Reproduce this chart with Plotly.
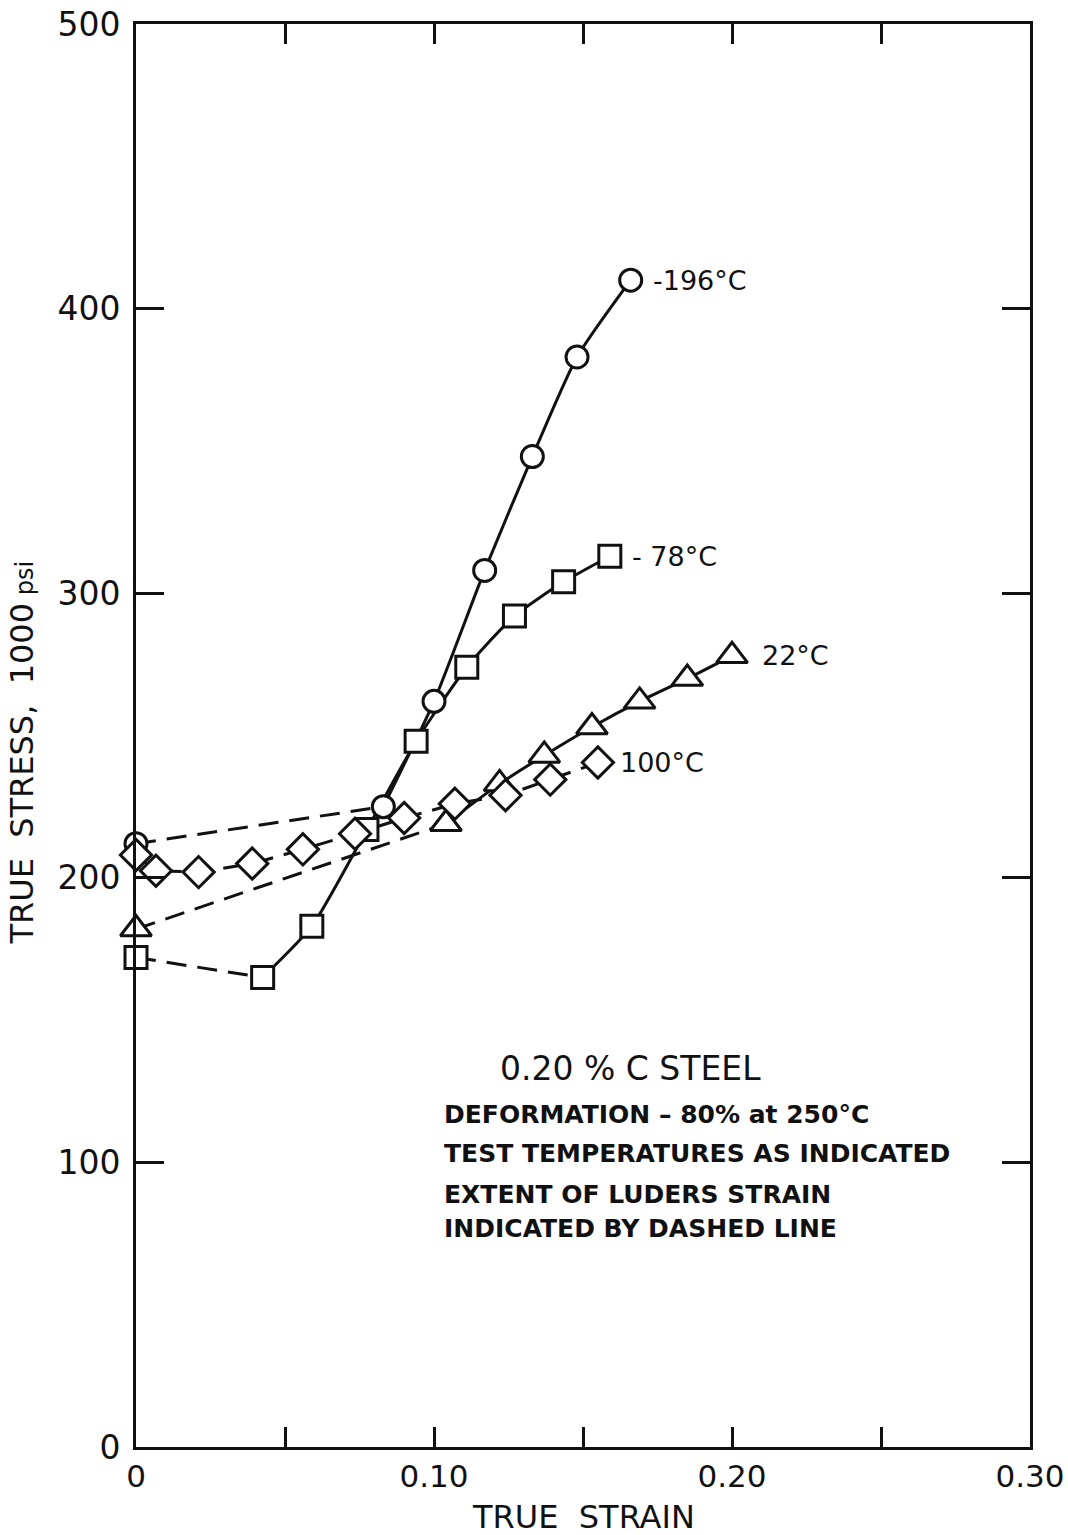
import plotly.graph_objects as go

# True strain / true stress (1000 psi) readings for each test temperature
strain_m196 = [0.0, 0.083, 0.100, 0.117, 0.133, 0.148, 0.166]
stress_m196 = [212, 225, 262, 308, 348, 383, 410]

strain_m78 = [0.0, 0.0425, 0.059, 0.0775, 0.094, 0.111, 0.127, 0.1435, 0.159]
stress_m78 = [172, 165, 183, 217, 248, 274, 292, 304, 313]

strain_22 = [0.0, 0.104, 0.122, 0.137, 0.153, 0.169, 0.185, 0.200]
stress_22 = [182, 219, 233, 243, 253, 262, 270, 278]

strain_100 = [0.0, 0.0067, 0.021, 0.039, 0.056, 0.0735, 0.090, 0.107, 0.124, 0.139, 0.155]
stress_100 = [208, 202.5, 202, 205, 210, 215.5, 221, 226, 229, 234.5, 240.5]

# index of the last point of the Luders (dashed) portion of each curve
luders_end_m196 = 1
luders_end_m78 = 1
luders_end_22 = 1
luders_end_100 = len(strain_100) - 1

temp_labels = ["-196°C", "- 78°C", "22°C", "100°C"]
x_ticks = [0, 0.05, 0.10, 0.15, 0.20, 0.25, 0.30]
x_tick_text = ["0", "", "0.10", "", "0.20", "", "0.30"]
y_ticks = [0, 100, 200, 300, 400, 500]

INK = "#111111"
FONT = "DejaVu Sans"

series = [
    (strain_m196, stress_m196, luders_end_m196, "circle", 22, temp_labels[0], 20),
    (strain_m78, stress_m78, luders_end_m78, "square", 22, temp_labels[1], 20),
    (strain_22, stress_22, luders_end_22, "triangle-up", 27, temp_labels[2], 28),
    (strain_100, stress_100, luders_end_100, "diamond", 24, temp_labels[3], 20),
]

fig = go.Figure()

# curve segments: dashed over the Luders strain, solid afterwards
for xs, ys, k, sym, size, label, shift in series:
    fig.add_trace(go.Scatter(
        x=xs[:k + 1], y=ys[:k + 1], mode="lines",
        line=dict(color=INK, width=3, dash="20px,11px"),
        hoverinfo="skip", showlegend=False))
    if k < len(xs) - 1:
        fig.add_trace(go.Scatter(
            x=xs[k:], y=ys[k:], mode="lines",
            line=dict(color=INK, width=3, shape="spline", smoothing=0.6),
            hoverinfo="skip", showlegend=False))

# data point symbols drawn over the lines
for xs, ys, k, sym, size, label, shift in series:
    fig.add_trace(go.Scatter(
        x=xs, y=ys, mode="markers", cliponaxis=False,
        marker=dict(symbol=sym, size=size, color="white",
                    line=dict(color=INK, width=3)),
        showlegend=False))
    fig.add_annotation(
        x=xs[-1], y=ys[-1], text=label, showarrow=False,
        xanchor="left", yanchor="middle", xshift=shift,
        font=dict(family=FONT, size=27, color=INK))

# explanatory note block
note_lines = [
    ("0.20 % C STEEL", 0.405, 1068, 33, "normal"),
    ("DEFORMATION – 80% at 250°C", 0.342, 1114, 25, "bold"),
    ("TEST TEMPERATURES AS INDICATED", 0.342, 1153, 25, "bold"),
    ("EXTENT OF LUDERS STRAIN", 0.342, 1194, 25, "bold"),
    ("INDICATED BY DASHED LINE", 0.342, 1228, 25, "bold"),
]
TOP, BOTTOM = 24, 1447
for text, xp, ypx, fs, wt in note_lines:
    fig.add_annotation(
        xref="paper", yref="paper", x=xp, y=(BOTTOM - ypx) / (BOTTOM - TOP),
        text=text, showarrow=False, xanchor="left", yanchor="middle",
        font=dict(family=FONT, size=fs, color=INK, weight=wt))

# axis titles
fig.add_annotation(
    xref="paper", yref="paper", x=(22 - 136) / (1030 - 136), y=0.488,
    text="TRUE  STRESS,  1000<span style='font-size:24px'> psi</span>",
    textangle=-90, showarrow=False, xanchor="center", yanchor="middle",
    font=dict(family=FONT, size=32, color=INK))
fig.add_annotation(
    xref="paper", yref="paper", x=0.5, y=-(1517 - BOTTOM) / (BOTTOM - TOP),
    text="TRUE  STRAIN", showarrow=False, xanchor="center", yanchor="middle",
    font=dict(family=FONT, size=32, color=INK))

axis_common = dict(
    showgrid=False, zeroline=False, showline=True, linecolor=INK, linewidth=3,
    mirror="ticks", ticks="inside", tickcolor=INK, tickwidth=3, automargin=False)

fig.update_xaxes(range=[0, 0.30], tickvals=x_ticks, ticktext=x_tick_text,
                 ticklen=20, tickfont=dict(family=FONT, size=31, color=INK),
                 **axis_common)
fig.update_yaxes(range=[0, 500], tickvals=y_ticks, ticklen=28,
                 ticklabelstandoff=6,
                 tickfont=dict(family=FONT, size=33, color=INK),
                 **axis_common)

fig.update_layout(
    width=1068, height=1535,
    margin=dict(l=136, r=38, t=24, b=88, autoexpand=False),
    paper_bgcolor="white", plot_bgcolor="white",
    showlegend=False)

fig.write_html("out.html")
